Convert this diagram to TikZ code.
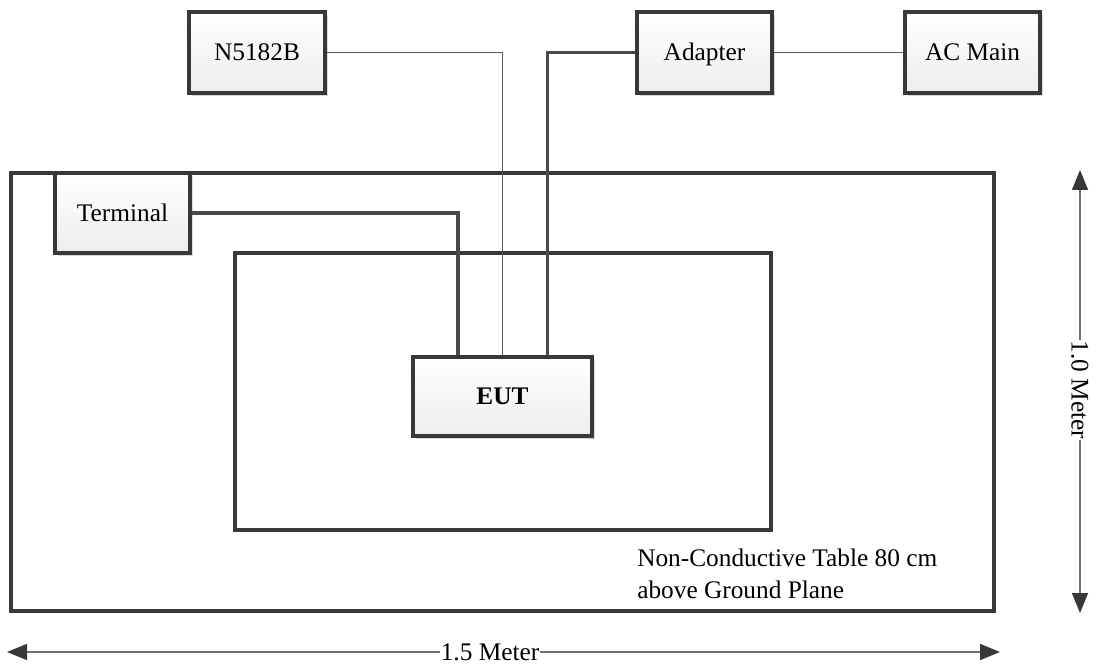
\documentclass[tikz,border=0pt]{standalone}
\usepackage{fontspec}
\setmainfont{Liberation Serif}
\usetikzlibrary{shadows,arrows.meta}
\definecolor{edge}{HTML}{383838}
\definecolor{wire}{HTML}{4A4A4A}
\definecolor{dim}{HTML}{707070}
\tikzset{
  devbox/.style={draw=edge, line width=2.3pt, top color=white, bottom color=black!7,
    drop shadow={shadow xshift=2.5pt, shadow yshift=-2.5pt, fill=black!15, opacity=1},
    font=\fontsize{19}{22}\selectfont, text=black, inner sep=0pt,
    text height=12.6pt, text depth=0pt},
  frame/.style={draw=edge, line width=2.8pt},
  thickwire/.style={draw=wire, line width=2.3pt},
  thinwire/.style={draw=wire!90, line width=1.1pt},
  dimline/.style={draw=dim, line width=1.1pt, {Triangle[length=15pt,width=12pt,fill=edge,color=edge]}-{Triangle[length=15pt,width=12pt,fill=edge,color=edge]}},
  dimlabel/.style={fill=white, inner xsep=0.5pt, inner ysep=0pt, font=\fontsize{19}{22}\selectfont,
    text height=12.6pt, text depth=0pt},
}
\begin{document}
\begin{tikzpicture}[x=0.75pt,y=-0.75pt]
\useasboundingbox (0,0) rectangle (1096,666);
% frames
\draw[frame] (11,173) rectangle (994,611);
\draw[frame] (235,253) rectangle (771,530);
% devices
\node[devbox, minimum width=102pt, minimum height=60.75pt] (sg) at (257,52.5) {N5182B};
\node[devbox, minimum width=101.25pt, minimum height=60.75pt] (ad) at (704.5,52.5) {Adapter};
\node[devbox, minimum width=101.25pt, minimum height=60.75pt] (ac) at (972.5,52.5) {AC Main};
\node[devbox, minimum width=101.25pt, minimum height=60pt] (term) at (122.5,213) {Terminal};
\node[devbox, minimum width=134.25pt, minimum height=59.25pt] (eut) at (502.5,396.5) {\textbf{EUT}};
% wires
\draw[thickwire] (term.east) -| ([xshift=-33.4pt]eut.north);
\draw[thinwire] (sg.east) -| (eut.north);
\draw[thickwire] (ad.west) -| ([xshift=33.4pt]eut.north);
\draw[thinwire] (ad.east) -- (ac.west);
% note
\node[anchor=north west, align=left, inner sep=0pt, font=\fontsize{19}{24}\selectfont] (note) at (637,549) {Non-Conductive Table 80 cm\\above Ground Plane};
% dimensions
\coordinate (hl) at (7,652);
\coordinate (hr) at (1000,652);
\draw[dimline] (hl) -- (hr);
\node[dimlabel] (hlab) at (490,652) {1.5 Meter};
\coordinate (vt) at (1080,170);
\coordinate (vb) at (1080,613);
\draw[dimline] (vt) -- (vb);
\node[dimlabel, rotate=-90] (vlab) at (1080,390) {1.0 Meter};
\end{tikzpicture}
\end{document}
